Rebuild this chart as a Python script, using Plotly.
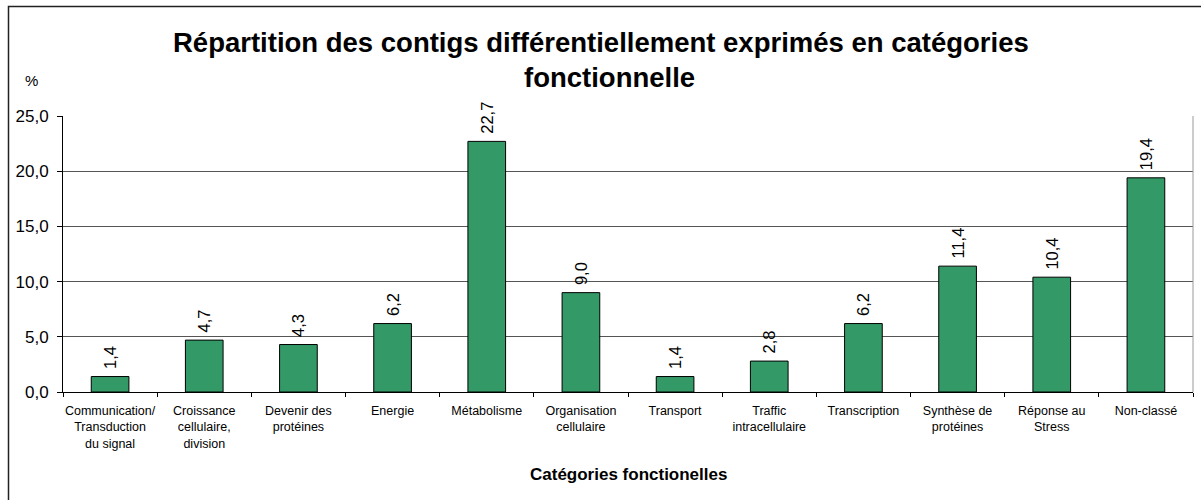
import plotly.graph_objects as go

# Functional categories (line breaks as they appear under the axis)
categories = [
    "Communication/<br>Transduction<br>du signal",
    "Croissance<br>cellulaire,<br>division",
    "Devenir des<br>protéines",
    "Energie",
    "Métabolisme",
    "Organisation<br>cellulaire",
    "Transport",
    "Traffic<br>intracellulaire",
    "Transcription",
    "Synthèse de<br>protéines",
    "Réponse au<br>Stress",
    "Non-classé",
]
# Share of differentially expressed contigs (%)
percentages = [1.4, 4.7, 4.3, 6.2, 22.7, 9.0, 1.4, 2.8, 6.2, 11.4, 10.4, 19.4]
y_ticks = [0, 5, 10, 15, 20, 25]

FONT = "Liberation Sans, Arial, sans-serif"
BAR_GREEN = "#339966"

fig = go.Figure(
    go.Bar(
        x=categories,
        y=percentages,
        marker=dict(color=BAR_GREEN, line=dict(color="black", width=1)),
        # a non-breaking space keeps the rotated value a little off the bar top
        texttemplate="\u00a0%{y:.1f}",
        textposition="outside",
        textangle=-90,
        textfont=dict(family=FONT, size=16.5, color="black"),
        cliponaxis=False,
        hoverinfo="x+y",
    )
)

W, H = 1201, 500
ML, MR, MT, MB = 63, 8, 116, 108
PW, PH = W - ML - MR, H - MT - MB


def px_to_paper_x(px):
    return (px - ML) / PW


def px_to_paper_y(py):
    return (H - MB - py) / PH


fig.update_layout(
    width=W,
    height=H,
    margin=dict(l=ML, r=MR, t=MT, b=MB),
    paper_bgcolor="white",
    plot_bgcolor="white",
    separators=",.",
    showlegend=False,
    bargap=0.6,
    font=dict(family=FONT, color="black"),
    xaxis=dict(
        type="category",
        showline=True,
        linecolor="black",
        linewidth=1,
        ticks="outside",
        tickson="boundaries",
        ticklen=4,
        tickcolor="black",
        tickangle=0,
        ticklabelstandoff=7,
        showgrid=False,
        tickfont=dict(family=FONT, size=12.5, color="black"),
        fixedrange=True,
    ),
    yaxis=dict(
        range=[0, 25],
        tickvals=y_ticks,
        tickformat=".1f",
        showline=True,
        linecolor="black",
        linewidth=1,
        ticks="outside",
        ticklen=5,
        tickcolor="black",
        ticklabelstandoff=5,
        showgrid=True,
        gridcolor="#555555",
        gridwidth=1,
        zeroline=False,
        tickfont=dict(family=FONT, size=17, color="black"),
        fixedrange=True,
    ),
    shapes=[
        # right edge of the plotting area
        dict(type="line", xref="paper", yref="paper", x0=1, x1=1, y0=0, y1=1,
             line=dict(color="#9a9a9a", width=1)),
        # frame around the chart
        dict(type="rect", xref="paper", yref="paper",
             x0=px_to_paper_x(8.5), x1=px_to_paper_x(1220),
             y0=px_to_paper_y(520), y1=px_to_paper_y(6.5),
             line=dict(color="#222222", width=1.5), layer="above"),
    ],
    annotations=[
        dict(text="<b>Répartition des contigs différentiellement exprimés en catégories</b>",
             xref="paper", yref="paper", x=px_to_paper_x(601), y=px_to_paper_y(43),
             xanchor="center", yanchor="middle", showarrow=False,
             font=dict(family=FONT, size=27.5, color="black")),
        dict(text="<b>fonctionnelle</b>",
             xref="paper", yref="paper", x=px_to_paper_x(609), y=px_to_paper_y(77),
             xanchor="center", yanchor="middle", showarrow=False,
             font=dict(family=FONT, size=27.5, color="black")),
        dict(text="%", xref="paper", yref="paper",
             x=px_to_paper_x(31), y=px_to_paper_y(80),
             xanchor="center", yanchor="middle", showarrow=False,
             font=dict(family=FONT, size=15, color="black")),
        dict(text="<b>Catégories fonctionelles</b>", xref="paper", yref="paper",
             x=0.5, y=px_to_paper_y(474),
             xanchor="center", yanchor="middle", showarrow=False,
             font=dict(family=FONT, size=17, color="black")),
    ],
)

fig.write_html("out.html")
